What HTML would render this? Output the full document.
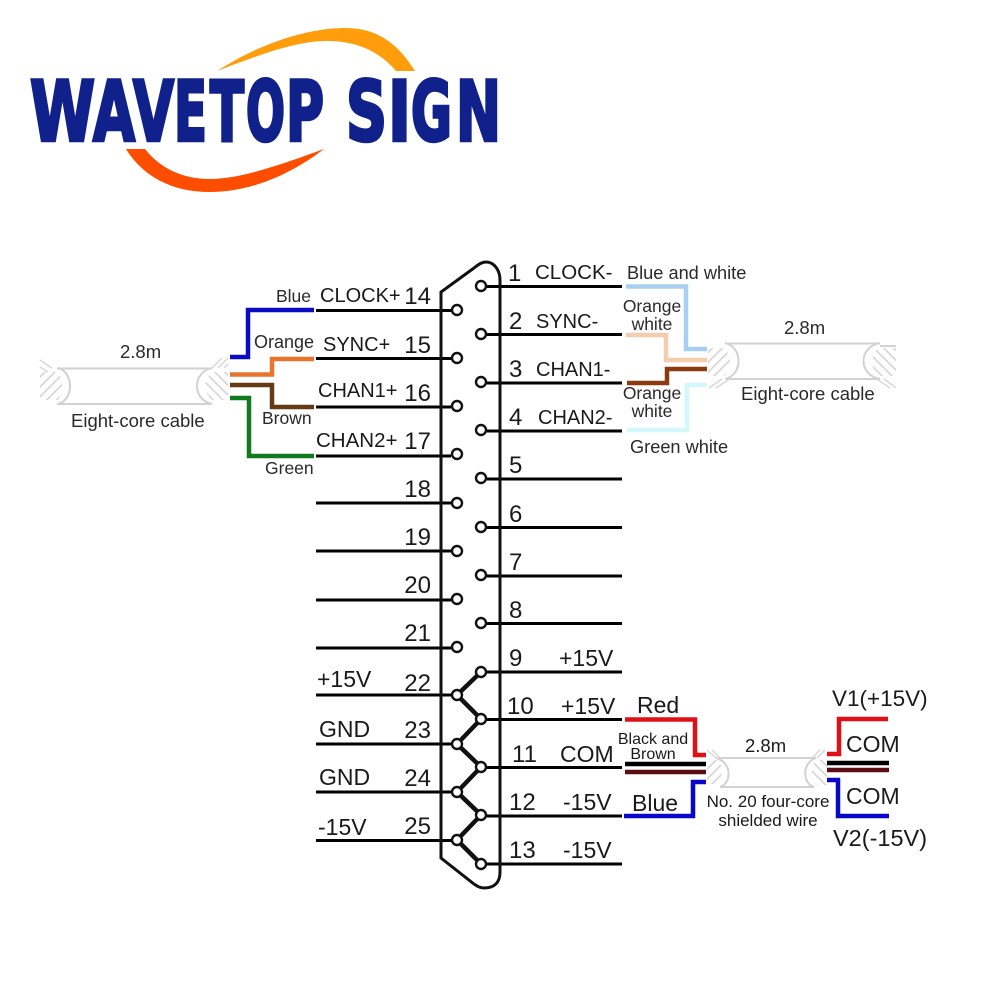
<!DOCTYPE html>
<html><head><meta charset="utf-8"><style>
html,body{margin:0;padding:0;background:#fff}
svg{display:block}
text{font-family:"Liberation Sans",sans-serif;fill:#1a1a1a}
.n{font-size:24px}.l{font-size:20px}.s{font-size:17.5px;fill:#2a2a2a}
.m{font-size:18.5px;fill:#2a2a2a}
.w{fill:none;stroke-width:4.5}
.k{stroke:#000;stroke-width:3;fill:none}
.c{stroke:#d2d2d2;stroke-width:2;fill:none}
.h{stroke:#d8d8d8;stroke-width:1.5;fill:none}
circle{fill:#fff;stroke:#111;stroke-width:2.4}
</style></head><body>
<svg width="1000" height="1000" viewBox="0 0 1000 1000" xmlns="http://www.w3.org/2000/svg">
<defs>
<pattern id="ha" width="7" height="7" patternUnits="userSpaceOnUse" patternTransform="rotate(45)"><rect width="1.700" height="7" fill="#d6d6d6"/></pattern>
<pattern id="hb" width="7" height="7" patternUnits="userSpaceOnUse" patternTransform="rotate(-45)"><rect width="1.700" height="7" fill="#d6d6d6"/></pattern>
</defs>
<rect width="1000" height="1000" fill="#fff"/>
<!-- logo -->
<path d="M217 71C262 42 310 28 345 28C378 28 398 44 415 71H396C378 50 355 41 327 41C296 41 262 54 217 71Z" fill="#ff9d0a"/>
<path d="M126 149H145C160 168 182 179 210 179C240 179 280 165 324 149C290 175 250 192 210 192C170 192 142 175 126 149Z" fill="#ff4d00"/>
<text y="140.500" style="font-family:'DejaVu Sans',sans-serif;font-weight:700;font-size:83px;fill:#10218b;stroke:#10218b;stroke-width:3.500;stroke-linejoin:miter"><tspan x="30" textLength="65" lengthAdjust="spacingAndGlyphs">W</tspan><tspan x="93" textLength="42" lengthAdjust="spacingAndGlyphs">A</tspan><tspan x="133" textLength="41" lengthAdjust="spacingAndGlyphs">V</tspan><tspan x="174" textLength="33" lengthAdjust="spacingAndGlyphs">E</tspan><tspan x="210" textLength="34" lengthAdjust="spacingAndGlyphs">T</tspan><tspan x="246" textLength="39" lengthAdjust="spacingAndGlyphs">O</tspan><tspan x="286" textLength="38" lengthAdjust="spacingAndGlyphs">P</tspan> <tspan x="346" textLength="41" lengthAdjust="spacingAndGlyphs">S</tspan><tspan x="388" textLength="23" lengthAdjust="spacingAndGlyphs">I</tspan><tspan x="411" textLength="41" lengthAdjust="spacingAndGlyphs">G</tspan><tspan x="456" textLength="45" lengthAdjust="spacingAndGlyphs">N</tspan></text>
<!-- pin lines -->
<g class="k">
<path d="M316 310.500H451M316 358.500H451M316 407H451M316 456H451M316 503H451M316 551H451M316 600H451M316 648H451M316 695H451M316 744H451M316 792H451M316 840.500H451"/>
<path d="M487 286.500H622M487 334.500H622M487 383H622M487 431H622M487 479H622M487 527.500H622M487 576H622M487 623.500H622M487 672H622M487 719.500H622M487 767.500H622M487 816H622M487 864H622"/>
</g>
<!-- connector shell -->
<path d="M500 280V872C500 882 495 888 484 888C480 888 477 886 474 884L441 858V292L474 268C479 264 482 262 486 262C494 262 500 270 500 280Z" fill="none" stroke="#111" stroke-width="3"/>
<!-- bridges -->
<path d="M481 672L457 695L481 719L457 744L481 767L457 792L481 815L457 840L481 864" fill="none" stroke="#111" stroke-width="4.500"/>
<!-- pins -->
<g>
<circle cx="457" cy="310" r="5"/><circle cx="457" cy="358" r="5"/><circle cx="457" cy="406" r="5"/><circle cx="457" cy="454" r="5"/><circle cx="457" cy="503" r="5"/><circle cx="457" cy="551" r="5"/><circle cx="457" cy="599" r="5"/><circle cx="457" cy="647" r="5"/><circle cx="457" cy="695" r="5"/><circle cx="457" cy="744" r="5"/><circle cx="457" cy="792" r="5"/><circle cx="457" cy="840" r="5"/>
<circle cx="481" cy="286" r="5"/><circle cx="481" cy="334" r="5"/><circle cx="481" cy="382" r="5"/><circle cx="481" cy="430" r="5"/><circle cx="481" cy="478" r="5"/><circle cx="481" cy="527" r="5"/><circle cx="481" cy="575" r="5"/><circle cx="481" cy="623" r="5"/><circle cx="481" cy="672" r="5"/><circle cx="481" cy="719" r="5"/><circle cx="481" cy="767" r="5"/><circle cx="481" cy="815" r="5"/><circle cx="481" cy="864" r="5"/>
</g>
<!-- left numbers -->
<g class="n" text-anchor="end">
<text x="431" y="304">14</text><text x="431" y="353">15</text><text x="431" y="401">16</text><text x="431" y="449">17</text><text x="431" y="497">18</text><text x="431" y="545">19</text><text x="431" y="593">20</text><text x="431" y="641">21</text><text x="431" y="691">22</text><text x="431" y="738">23</text><text x="431" y="786">24</text><text x="431" y="834">25</text>
</g>
<!-- right numbers -->
<g class="n">
<text x="508" y="281">1</text><text x="509" y="329">2</text><text x="509" y="377">3</text><text x="509" y="425">4</text><text x="509" y="473">5</text><text x="509" y="522">6</text><text x="509" y="570">7</text><text x="509" y="618">8</text><text x="509" y="666">9</text><text x="507" y="714">10</text><text x="512" y="762">11</text><text x="509" y="810">12</text><text x="509" y="858">13</text>
</g>
<!-- signal names -->
<g class="l">
<text x="320" y="302">CLOCK+</text><text x="323" y="351">SYNC+</text><text x="318" y="397">CHAN1+</text><text x="316" y="447" style="font-size:20.500px">CHAN2+</text>
<text x="535" y="279" style="font-size:20.500px">CLOCK-</text><text x="536" y="328">SYNC-</text><text x="536" y="376">CHAN1-</text><text x="538" y="424">CHAN2-</text>
</g>
<g>
<text x="317" y="687" style="font-size:23px">+15V</text><text x="319" y="737" style="font-size:23px">GND</text><text x="319" y="785" style="font-size:23px">GND</text><text x="318" y="835" style="font-size:23px">-15V</text>
<text x="559" y="666" style="font-size:23px">+15V</text><text x="561" y="714" style="font-size:23px">+15V</text><text x="560" y="762" style="font-size:23px">COM</text><text x="563" y="810" style="font-size:23px">-15V</text><text x="563" y="858" style="font-size:23px">-15V</text>
</g>
<!-- left cable -->
<path d="M40 372H58Q66 386 58 400H40Z" fill="url(#ha)"/>
<path d="M228 372H212Q198 386 212 400H228Z" fill="url(#hb)"/>
<path class="c" d="M57 368.500H212M57 404H210M58 368C74 372 74 400 58 404M212 368C192 372 192 400 212 404"/>
<path class="h" d="M40 360L52 368M40 367L48 372M218 368L228 358M224 368L228 364M212 368L222 358"/>
<g class="w">
<path stroke="#0b0bc4" d="M230 357H248V310H314"/>
<path stroke="#e8752b" d="M230 374.500H272V359H314"/>
<path stroke="#653a14" d="M230 385H272V407H314"/>
<path stroke="#0f7a1e" d="M230 398H249V456H314"/>
</g>
<text class="s" x="276" y="302">Blue</text>
<text class="s" x="254" y="348" style="font-size:18px">Orange</text>
<text class="s" x="262" y="424">Brown</text>
<text class="s" x="265" y="474">Green</text>
<text class="m" x="120" y="358">2.8m</text>
<text class="m" x="71" y="427">Eight-core cable</text>
<!-- right cable -->
<path d="M708 348H724Q736 361 724 376H708Z" fill="url(#ha)"/>
<path d="M896 348H878Q866 362 878 376H896Z" fill="url(#hb)"/>
<path class="c" d="M725 343.500H880M725 379H880M725 343C743 347 743 375 725 379M880 343C858 347 858 375 880 379M880 346H896"/>
<path class="h" d="M709 388L722 379M716 388L728 380M884 379L896 388M878 380L890 388"/>
<g class="w">
<path stroke="#a6cff2" d="M626 286.500H686V349H707"/>
<path stroke="#f4ccae" d="M626 335H666V360H707"/>
<path stroke="#8c3a10" d="M627 383H667V369H707"/>
<path stroke="#d2f8fb" d="M627 430H687V385H707"/>
</g>
<text class="s" x="627" y="279" style="font-size:18.200px">Blue and white</text>
<text class="s" x="652" y="312" text-anchor="middle">Orange</text>
<text class="s" x="652" y="330" text-anchor="middle">white</text>
<text class="s" x="652" y="399" text-anchor="middle">Orange</text>
<text class="s" x="652" y="417" text-anchor="middle">white</text>
<text class="s" x="630" y="453" style="font-size:18.200px">Green white</text>
<text class="m" x="784" y="334">2.8m</text>
<text class="m" x="741" y="400">Eight-core cable</text>
<!-- bottom cable -->
<path d="M707 760H718Q726 771 718 784H707Z" fill="url(#ha)"/>
<path d="M827 760H816Q808 772 816 785H827Z" fill="url(#hb)"/>
<path class="c" d="M718 758H816M720 787H814M716 758C732 762 732 783 720 787M816 758C802 762 802 783 814 787"/>
<path class="h" d="M707 750L716 758M712 750L720 758M825 750L817 758M820 750L812 758"/>
<g class="w">
<path stroke="#e01016" d="M625 719.500H695V755H706"/>
<path stroke="#000" d="M625 764H706"/>
<path stroke="#5e0c14" d="M625 772H706"/>
<path stroke="#0808c6" d="M624 816H693V782H706"/>
<path stroke="#e01016" d="M827 754H839V719H888"/>
<path stroke="#000" d="M827 763H889"/>
<path stroke="#5e0c14" d="M827 770H889"/>
<path stroke="#0808c6" d="M827 780H838V816H889"/>
</g>
<text x="637" y="713" style="font-size:23px">Red</text>
<text x="632" y="811" style="font-size:23px">Blue</text>
<text x="653" y="744" text-anchor="middle" style="font-size:16px">Black and</text>
<text x="653" y="759" text-anchor="middle" style="font-size:16px">Brown</text>
<text x="745" y="752" style="font-size:18.500px">2.8m</text>
<text x="768" y="807" text-anchor="middle" style="font-size:17px">No. 20 four-core</text>
<text x="768" y="826" text-anchor="middle" style="font-size:17px">shielded wire</text>
<text x="832" y="706" style="font-size:22.500px">V1(+15V)</text>
<text x="846" y="752" style="font-size:23px">COM</text>
<text x="846" y="804" style="font-size:23px">COM</text>
<text x="833" y="846" style="font-size:23.500px">V2(-15V)</text>
</svg>
</body></html>
